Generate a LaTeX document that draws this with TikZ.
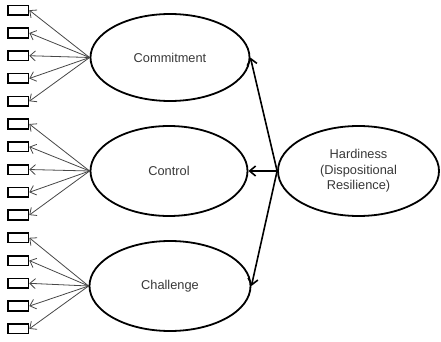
\documentclass[tikz,border=0pt]{standalone}
\usepackage{fontspec}
\setmainfont{Liberation Sans}
\usetikzlibrary{shapes.geometric,arrows.meta}
\begin{document}
\begin{tikzpicture}[x=1pt,y=-1pt,
  lat/.style={draw=black,line width=1.8pt,ellipse,inner sep=0pt,font=\fontsize{12.8}{15.5}\selectfont,text=black!78,align=center},
  ind/.style={draw=black,line width=1.6pt,minimum width=20.4pt,minimum height=9.6pt,inner sep=0pt},
  load/.style={draw=black!72,line width=0.8pt,-{Straight Barb[length=5.5pt,width=10pt]}},
  struct/.style={draw=black,line width=1.6pt,-{Straight Barb[length=6pt,width=10pt]}}]
\useasboundingbox (0,0) rectangle (441,342);
\node[lat,minimum width=159pt,minimum height=87pt] (com) at (170,57.5) {Commitment};
\node[lat,minimum width=157pt,minimum height=90pt] (con) at (169,171) {Control};
\node[lat,minimum width=161pt,minimum height=90pt] (cha) at (170,286) {Challenge};
\node[lat,minimum width=161pt,minimum height=90pt] (har) at (358.5,171) {Hardiness\\(Dispositional\\Resilience)};
\foreach \i in {1,...,15} { \node[ind] (b\i) at (18.3, {10.2+22.76*(\i-1)}) {}; }
\foreach \i in {1,...,5} { \draw[load] (com.west) -- (b\i.east); }
\foreach \i in {6,...,10} { \draw[load] (con.west) -- (b\i.east); }
\foreach \i in {11,...,15} { \draw[load] (cha.west) -- (b\i.east); }
\draw[struct] (har.west) -- (com.east);
\draw[struct] (har.west) -- (con.east);
\draw[struct] (har.west) -- (cha.east);
\end{tikzpicture}
\end{document}
